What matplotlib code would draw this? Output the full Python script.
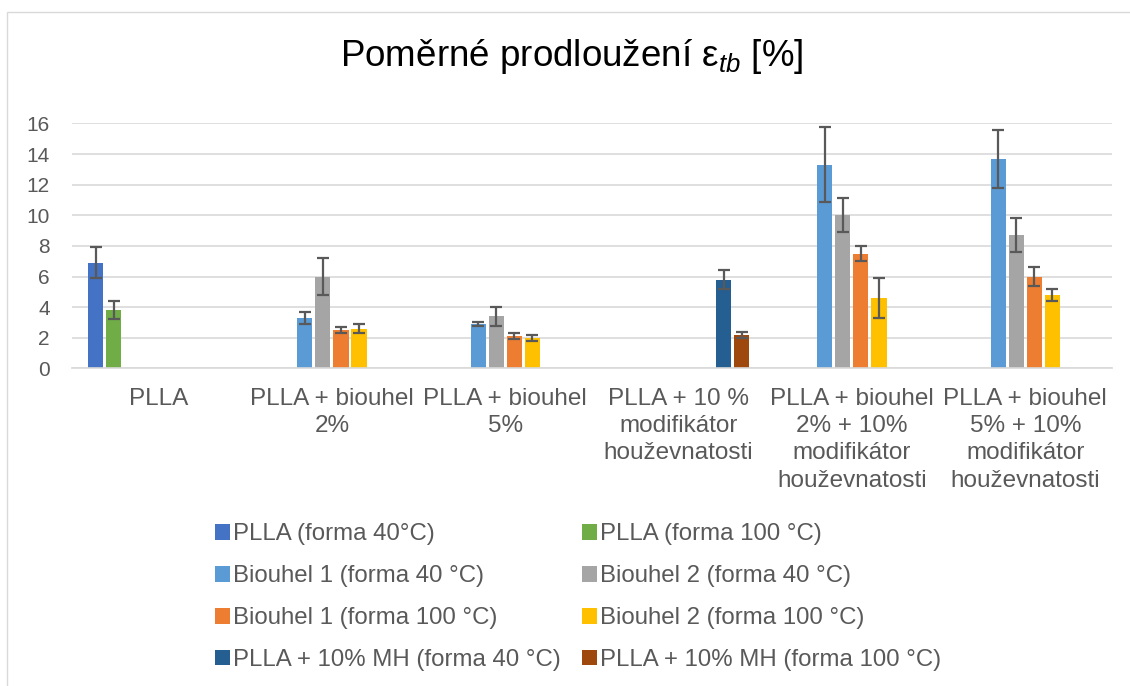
import numpy as np
import matplotlib
matplotlib.use('Agg')
import matplotlib.pyplot as plt
from matplotlib.patches import Rectangle

categories = ['PLLA',
              'PLLA + biouhel\n2%',
              'PLLA + biouhel\n5%',
              'PLLA + 10 %\nmodifikátor\nhouževnatosti',
              'PLLA + biouhel\n2% + 10%\nmodifikátor\nhouževnatosti',
              'PLLA + biouhel\n5% + 10%\nmodifikátor\nhouževnatosti']

series_names = ['PLLA (forma 40°C)', 'PLLA (forma 100 °C)',
                'Biouhel 1 (forma 40 °C)', 'Biouhel 2 (forma 40 °C)',
                'Biouhel 1 (forma 100 °C)', 'Biouhel 2 (forma 100 °C)',
                'PLLA + 10% MH (forma 40 °C)', 'PLLA + 10% MH (forma 100 °C)']
colors = ['#4472C4', '#70AD47', '#5B9BD5', '#A5A5A5',
          '#ED7D31', '#FFC000', '#255E91', '#9E480E']

nan = np.nan
plla_40 = [6.9, nan, nan, nan, nan, nan]
plla_100 = [3.8, nan, nan, nan, nan, nan]
b1_40 = [nan, 3.3, 2.9, nan, 13.3, 13.7]
b2_40 = [nan, 6.0, 3.4, nan, 10.0, 8.7]
b1_100 = [nan, 2.5, 2.1, nan, 7.5, 6.0]
b2_100 = [nan, 2.6, 2.0, nan, 4.6, 4.8]
mh_40 = [nan, nan, nan, 5.8, nan, nan]
mh_100 = [nan, nan, nan, 2.2, nan, nan]

plla_40_err = [1.0, 0, 0, 0, 0, 0]
plla_100_err = [0.6, 0, 0, 0, 0, 0]
b1_40_err = [0, 0.4, 0.1, 0, 2.45, 1.9]
b2_40_err = [0, 1.2, 0.6, 0, 1.1, 1.1]
b1_100_err = [0, 0.2, 0.2, 0, 0.5, 0.6]
b2_100_err = [0, 0.3, 0.2, 0, 1.3, 0.4]
mh_40_err = [0, 0, 0, 0.6, 0, 0]
mh_100_err = [0, 0, 0, 0.2, 0, 0]

values = [plla_40, plla_100, b1_40, b2_40, b1_100, b2_100, mh_40, mh_100]
errors = [plla_40_err, plla_100_err, b1_40_err, b2_40_err,
          b1_100_err, b2_100_err, mh_40_err, mh_100_err]

plt.rcParams['font.family'] = ['Liberation Sans', 'DejaVu Sans']
plt.rcParams['mathtext.fontset'] = 'custom'
plt.rcParams['mathtext.rm'] = 'Liberation Sans'
plt.rcParams['mathtext.it'] = 'Liberation Sans:italic'

fig = plt.figure(figsize=(11.3, 6.86), dpi=100)
ax = fig.add_axes([0.0637, 0.463, 0.9203, 0.357])

x = np.arange(len(categories))
slot = 0.104
width = 0.087
for i, (vals, errs) in enumerate(zip(values, errors)):
    pos = x + (i - 3.5) * slot
    vals = np.array(vals, dtype=float)
    errs = np.array(errs, dtype=float)
    mask = ~np.isnan(vals)
    ax.bar(pos[mask], vals[mask], width, color=colors[i], label=series_names[i], zorder=2)
    ax.errorbar(pos[mask], vals[mask], yerr=errs[mask], fmt='none', ecolor='#595959',
                elinewidth=1.6, capsize=4.5, capthick=1.6, zorder=3)

ax.set_xlim(-0.5, len(categories) - 0.5)
ax.set_ylim(0, 16)
ax.set_yticks(np.arange(0, 17, 2))
ax.yaxis.grid(True, color='#D9D9D9', linewidth=1.2, zorder=0)
ax.set_axisbelow(True)
for s in ['top', 'right', 'left']:
    ax.spines[s].set_visible(False)
ax.spines['bottom'].set_color('#D9D9D9')
ax.spines['bottom'].set_linewidth(1.2)
ax.tick_params(axis='y', length=0, labelsize=15, labelcolor='#595959', pad=16)
ax.tick_params(axis='x', length=0, labelsize=17.5, labelcolor='#595959', pad=14)
ax.set_xticks(x)
ax.set_xticklabels(categories, linespacing=1.31)

fig.text(0.506, 0.918, r'Poměrné prodloužení ε$_{tb}$ [%]', ha='center', va='center',
         fontsize=26.5, color='black')

# legend is filled column by column, reorder so rows read left to right
handles, labels = ax.get_legend_handles_labels()
order = [0, 2, 4, 6, 1, 3, 5, 7]
fig.legend([handles[k] for k in order], [labels[k] for k in order], ncol=2,
           loc='upper left', bbox_to_anchor=(0.1903, 0.2369),
           frameon=False, fontsize=17.25, labelcolor='#595959',
           handlelength=0.62, handleheight=0.62, handletextpad=0.13,
           labelspacing=0.83, columnspacing=0.875, borderpad=0, borderaxespad=0)

fig.patches.append(Rectangle((0.0062, -0.01), 1.0, 0.9918, transform=fig.transFigure,
                             fill=False, edgecolor='#D9D9D9', linewidth=1))

fig.savefig('out.png', dpi=100)
